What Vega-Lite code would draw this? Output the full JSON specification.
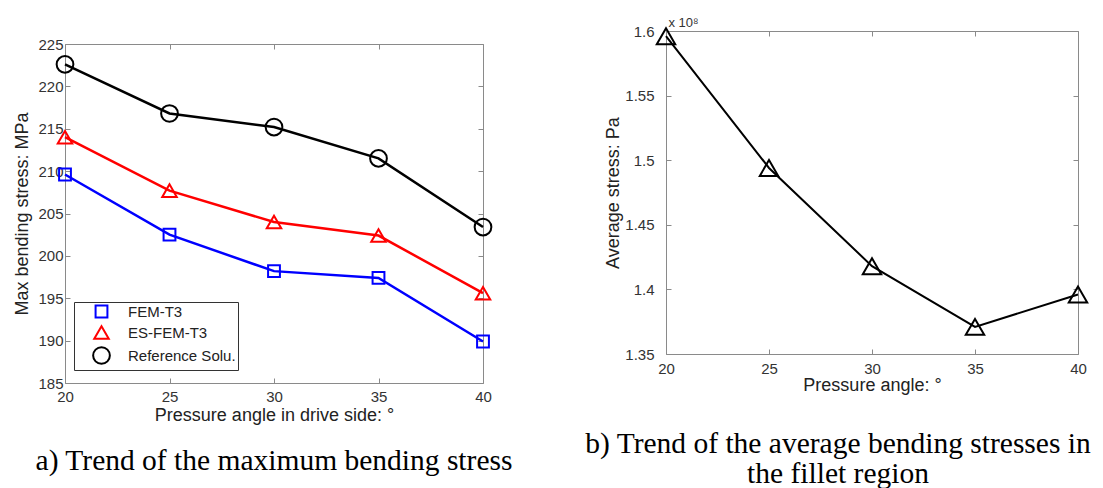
{
  "$schema": "https://vega.github.io/schema/vega-lite/v6.json",
  "padding": {"left": 13, "top": 15, "right": 5, "bottom": 5},
  "background": "white",
  "config": {
    "view": {"stroke": "#8a8a8a", "strokeWidth": 1},
    "font": "Liberation Sans",
    "axis": {
      "grid": false, "domain": false, "tickColor": "#8a8a8a", "tickSize": -5, "tickWidth": 1,
      "labelFont": "Liberation Sans", "labelFontSize": 15, "labelColor": "#333333", "labelFlush": false,
      "titleFont": "Liberation Sans", "titleFontSize": 18, "titleFontWeight": "normal", "titleColor": "#222222"
    },
    "title": {"font": "Liberation Serif", "fontSize": 29.5, "fontWeight": "normal", "color": "#000000"}
  },
  "spacing": 70,
  "center": true,
  "hconcat": [
    {
      "width": 418,
      "height": 339,
      "title": {"text": "a) Trend of the maximum bending stress", "orient": "bottom", "frame": "group", "anchor": "middle", "offset": 23},
      "data": {"values": [
        {"angle": 20, "method": "FEM-T3", "stress": 209.6},
        {"angle": 25, "method": "FEM-T3", "stress": 202.5},
        {"angle": 30, "method": "FEM-T3", "stress": 198.2},
        {"angle": 35, "method": "FEM-T3", "stress": 197.4},
        {"angle": 40, "method": "FEM-T3", "stress": 189.9},
        {"angle": 20, "method": "ES-FEM-T3", "stress": 214.0},
        {"angle": 25, "method": "ES-FEM-T3", "stress": 207.7},
        {"angle": 30, "method": "ES-FEM-T3", "stress": 204.0},
        {"angle": 35, "method": "ES-FEM-T3", "stress": 202.4},
        {"angle": 40, "method": "ES-FEM-T3", "stress": 195.6},
        {"angle": 20, "method": "Reference Solu.", "stress": 222.6},
        {"angle": 25, "method": "Reference Solu.", "stress": 216.8},
        {"angle": 30, "method": "Reference Solu.", "stress": 215.2},
        {"angle": 35, "method": "Reference Solu.", "stress": 211.5},
        {"angle": 40, "method": "Reference Solu.", "stress": 203.4}
      ]},
      "layer": [
        {
          "mark": {"type": "line", "strokeWidth": 2.5},
          "encoding": {
            "x": {"field": "angle", "type": "quantitative", "scale": {"domain": [20, 40], "nice": false},
                  "axis": {"orient": "bottom", "values": [20, 25, 30, 35, 40], "labelPadding": 11, "title": "Pressure angle in drive side: °", "titlePadding": 2}},
            "y": {"field": "stress", "type": "quantitative", "scale": {"domain": [185, 225], "nice": false, "zero": false},
                  "axis": {"orient": "left", "values": [185, 190, 195, 200, 205, 210, 215, 220, 225], "labelPadding": 7, "title": "Max bending stress: MPa", "titlePadding": 6}},
            "color": {"field": "method", "type": "nominal", "scale": {"domain": ["FEM-T3", "ES-FEM-T3", "Reference Solu."], "range": ["#0000ff", "#ff0000", "#000000"]}},
            "detail": {"field": "method"}
          }
        },
        {
          "mark": {"type": "point", "filled": false, "strokeWidth": 2, "opacity": 1},
          "encoding": {
            "x": {"field": "angle", "type": "quantitative", "axis": {"orient": "top", "values": [20, 25, 30, 35, 40], "labels": false, "title": null}},
            "y": {"field": "stress", "type": "quantitative", "axis": {"orient": "right", "values": [185, 190, 195, 200, 205, 210, 215, 220, 225], "labels": false, "title": null}},
            "color": {"field": "method", "type": "nominal", "scale": {"domain": ["FEM-T3", "ES-FEM-T3", "Reference Solu."], "range": ["#0000ff", "#ff0000", "#000000"]},
              "legend": {
                "title": null, "orient": "none", "legendX": 9, "legendY": 271, "strokeColor": "#333333", "fillColor": "#ffffff",
                "padding": 2, "symbolSize": 380, "symbolStrokeWidth": 2, "symbolOffset": 16, "labelOffset": 17, "rowPadding": 0,
                "labelFontSize": 15, "labelFont": "Liberation Sans", "labelColor": "#222222"
              }},
            "shape": {"field": "method", "type": "nominal", "scale": {"domain": ["FEM-T3", "ES-FEM-T3", "Reference Solu."], "range": ["square", "triangle-up", "circle"]}, "legend": null},
            "size": {"field": "method", "type": "nominal", "scale": {"domain": ["FEM-T3", "ES-FEM-T3", "Reference Solu."], "range": [140, 280, 205]}, "legend": null}
          }
        }
      ],
      "resolve": {"axis": {"x": "independent", "y": "independent"}}
    },
    {
      "width": 412,
      "height": 323,
      "title": {"text": ["b) Trend of the average bending stresses in", "the fillet region"], "orient": "bottom", "frame": "group", "anchor": "middle", "offset": 36, "dx": -34, "lineHeight": 30},
      "data": {"values": [
        {"angle": 20, "stress_Pa": 159600000},
        {"angle": 25, "stress_Pa": 149400000},
        {"angle": 30, "stress_Pa": 141800000},
        {"angle": 35, "stress_Pa": 137100000},
        {"angle": 40, "stress_Pa": 139600000}
      ]},
      "layer": [
        {
          "mark": {"type": "line", "color": "#000000", "strokeWidth": 2},
          "encoding": {
            "x": {"field": "angle", "type": "quantitative", "scale": {"domain": [20, 40], "nice": false},
                  "axis": {"orient": "bottom", "values": [20, 25, 30, 35, 40], "labelPadding": 12, "title": "Pressure angle:  °", "titlePadding": 0}},
            "y": {"field": "stress_Pa", "type": "quantitative", "scale": {"domain": [135000000, 160000000], "nice": false, "zero": false},
                  "axis": {"orient": "left", "values": [135000000, 140000000, 145000000, 150000000, 155000000, 160000000], "labelExpr": "format(datum.value / 100000000, '.3~f')", "labelPadding": 17, "title": "Average stress: Pa", "titlePadding": 2}}
          }
        },
        {
          "mark": {"type": "point", "shape": "triangle-up", "filled": false, "color": "#000000", "size": 340, "strokeWidth": 2, "opacity": 1},
          "encoding": {
            "x": {"field": "angle", "type": "quantitative",
                  "axis": {"orient": "top", "values": [20, 25, 30, 35, 40], "labels": false, "title": "x 10⁸", "titleFontSize": 13, "titleColor": "#333333", "titleAnchor": "start", "titleAlign": "left", "titleBaseline": "alphabetic", "titleX": 2, "titleY": -5}},
            "y": {"field": "stress_Pa", "type": "quantitative",
                  "axis": {"orient": "right", "values": [135000000, 140000000, 145000000, 150000000, 155000000, 160000000], "labels": false, "title": null}}
          }
        }
      ],
      "resolve": {"axis": {"x": "independent", "y": "independent"}}
    }
  ]
}
